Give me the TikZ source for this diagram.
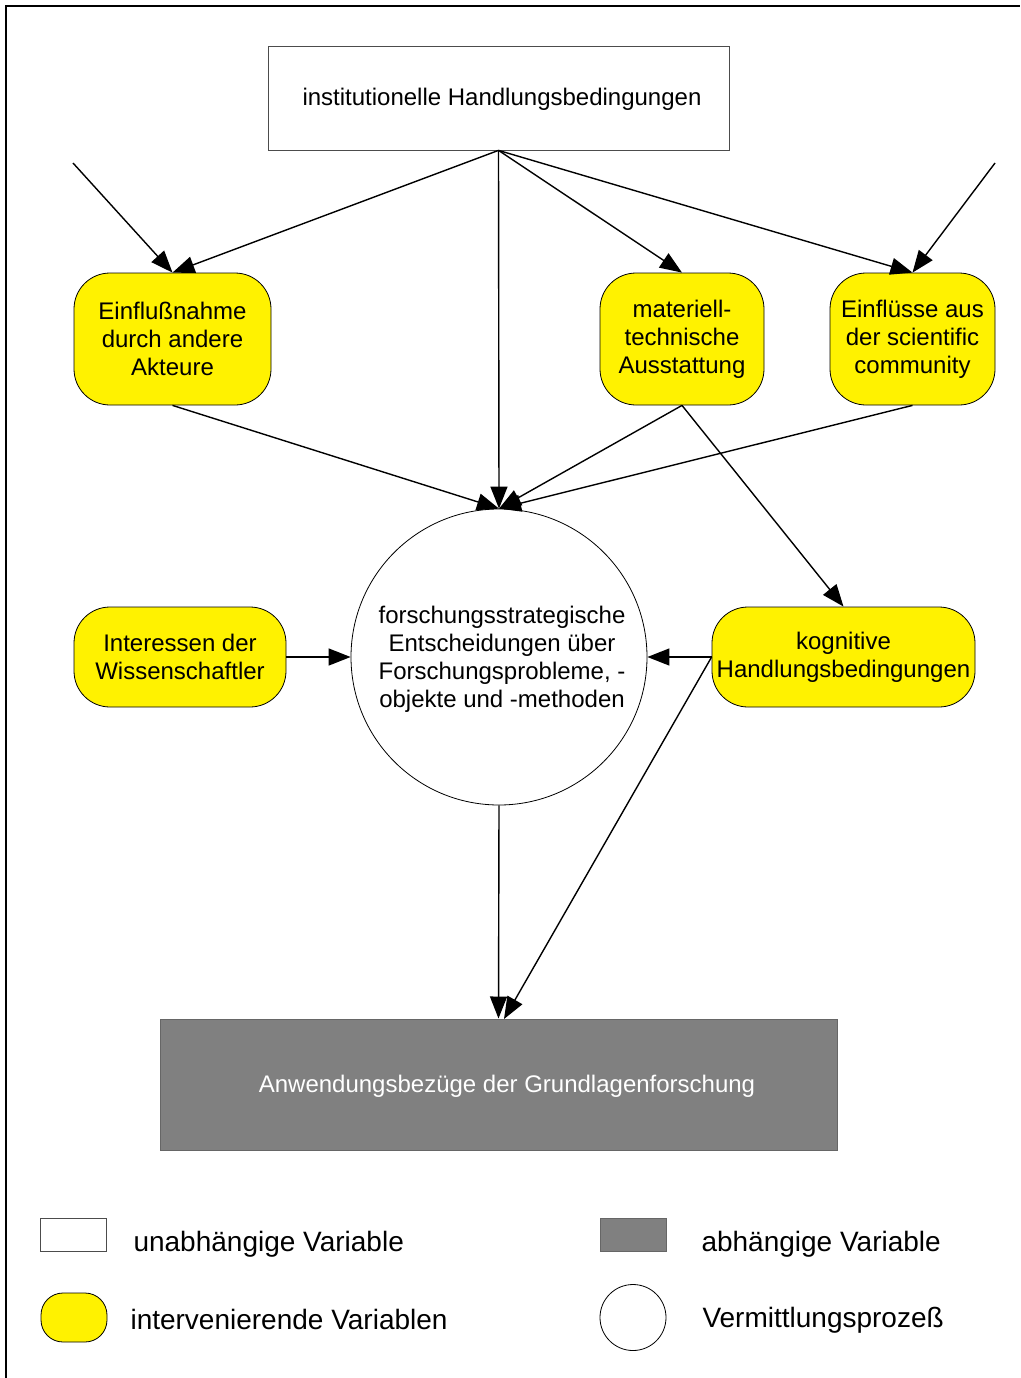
\documentclass[tikz,border=0pt]{standalone}
\usepackage{fontspec}
\setmainfont{Liberation Sans}
\usetikzlibrary{arrows.meta,calc}
\begin{document}
\begin{tikzpicture}[x=1pt,y=-1pt,
  txt/.style={font=\fontsize{24}{28}\selectfont, align=center},
  ind/.style={draw=black!70, fill=white, line width=0.8pt, inner sep=0pt},
  yel/.style={draw=black, fill=yellow, rounded corners=36pt, line width=0.8pt, inner sep=0pt, txt},
  dep/.style={draw=black!60, fill=black!50, line width=1pt, inner sep=0pt},
  proc/.style={draw=black, fill=white, circle, line width=0.8pt, inner sep=0pt},
  arr/.style={-{Triangle[length=22pt,width=17pt]}, line width=1.4pt},
  leg/.style={font=\fontsize{28}{32}\selectfont, anchor=west}
]
\useasboundingbox (0,0) rectangle (1020,1378);
\draw[line width=2.5pt] (6,1378) -- (6,6) -- (1020,6);

% nodes
\node[ind, minimum width=461pt, minimum height=104pt] (top) at (498.5,98) {};
\node[txt] (topt) at (502,99) {institutionelle Handlungsbedingungen};
\node[yel, minimum width=197pt, minimum height=132pt] (A) at (172.5,339) {Einflußnahme\\durch andere\\Akteure};
\node[yel, minimum width=164pt, minimum height=132pt] (B) at (682,339) {materiell-\\technische\\Ausstattung};
\node[yel, minimum width=165pt, minimum height=132pt] (C) at (912.5,339) {Einflüsse aus\\der scientific\\community};
\node[proc, minimum size=296pt] (M) at (499,657) {};
\node[txt] (Mt) at (502,659) {forschungsstrategische\\Entscheidungen über\\Forschungsprobleme, -\\objekte und -methoden};
\node[yel, minimum width=212pt, minimum height=100pt] (D) at (180,657) {Interessen der\\Wissenschaftler};
\node[yel, minimum width=263pt, minimum height=100pt] (E) at (843.5,657) {kognitive\\Handlungsbedingungen};
\node[dep, minimum width=677pt, minimum height=131pt] (G) at (498.5,1084.5) {};
\node[txt, text=white] (Gt) at (507,1086) {Anwendungsbezüge der Grundlagenforschung};

\coordinate (tb) at (top.south);
\coordinate (inA) at (73,163);
\coordinate (inC) at (995,163);
\coordinate (gE) at (504,1019);

% connectors
\draw[arr] (inA) -- (A.north);
\draw[arr] (inC) -- (C.north);
\draw[arr] (tb) -- (A.north);
\draw[arr] (tb) -- (M.north);
\draw[arr] (tb) -- (B.north);
\draw[arr] (tb) -- (C.north);
\draw[arr] (A.south) -- (M.north);
\draw[arr] (B.south) -- (M.north);
\draw[arr] (C.south) -- (M.north);
\draw[arr] (B.south) -- (E.north);
\draw[arr] (D.east) -- (M.west);
\draw[arr] (E.west) -- (M.east);
\draw[arr] (M.south) -- (G.north);
\draw[arr] (E.west) -- (gE);

% legend
\node[ind, minimum width=66pt, minimum height=33pt] (L1) at (73.5,1234.5) {};
\node[leg] (L1t) at (130,1244) {unabhängige Variable};
\node[draw=black, fill=yellow, line width=0.8pt, rounded corners=22pt, minimum width=66pt, minimum height=49pt, inner sep=0pt] (L2) at (74,1317.5) {};
\node[leg] (L2t) at (127,1319) {intervenierende Variablen};
\node[dep, minimum width=66pt, minimum height=33pt] (L3) at (633,1234.5) {};
\node[leg] (L3t) at (698,1244) {abhängige Variable};
\node[proc, minimum size=66pt] (L4) at (633,1317.5) {};
\node[leg] (L4t) at (699,1320) {Vermittlungsprozeß};
\end{tikzpicture}
\end{document}
